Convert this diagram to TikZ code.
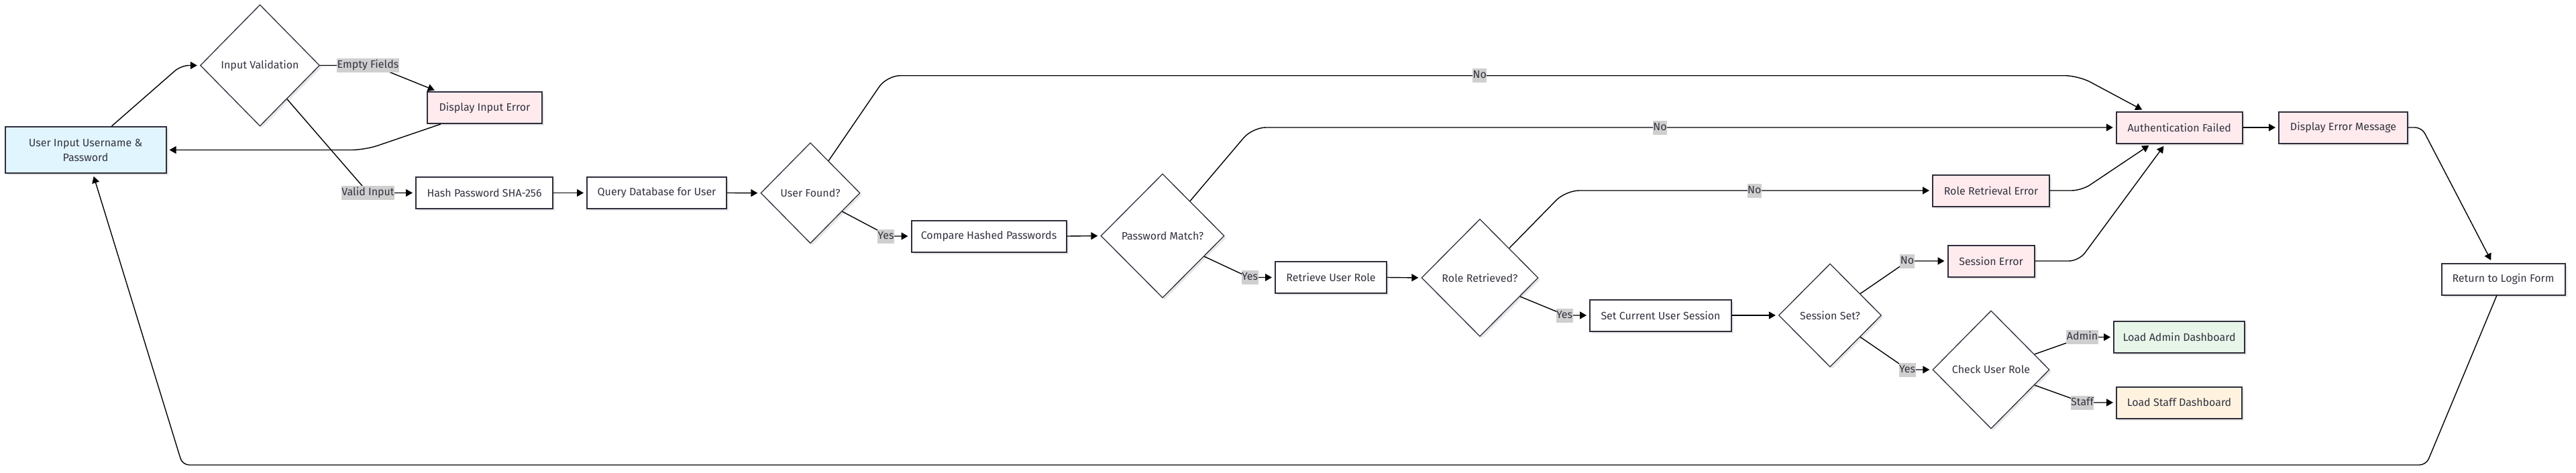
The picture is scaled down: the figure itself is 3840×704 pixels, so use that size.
\documentclass[tikz,border=0pt]{standalone}
\usepackage{fontspec}
\setmainfont{Fira Sans}
\usetikzlibrary{shapes.geometric,arrows.meta,shadows,calc}
\definecolor{strk}{HTML}{2E2E3C}
\definecolor{txt}{HTML}{333340}
\definecolor{lblgray}{HTML}{CFCFCF}
\definecolor{uiblue}{HTML}{E1F5FE}
\definecolor{errpink}{HTML}{FFEBEE}
\definecolor{okgreen}{HTML}{E8F5E9}
\definecolor{staffor}{HTML}{FFF3E0}
\begin{document}
\begin{tikzpicture}[x=1pt,y=-1pt,
  font=\fontsize{16}{22}\selectfont,
  shad/.style={drop shadow={shadow xshift=3pt,shadow yshift=-3pt,fill=black!9,opacity=1}},
  box/.style={rectangle,draw=strk,line width=2pt,fill=white,text=txt,minimum height=47pt,inner sep=0pt,align=center,shad},
  dia/.style={diamond,draw=strk,line width=1.3pt,fill=white,text=txt,inner sep=0pt,shad},
  edge/.style={draw=black,line width=1.4pt,-{Triangle[length=10pt,width=11pt]},shorten >=4pt},
  lbl/.style={fill=lblgray,text=txt,inner xsep=0.5pt,inner ysep=3pt,text height=11.5pt,text depth=3.5pt}
]
\fill[white] (0,0) rectangle (3840,704);
\useasboundingbox (0,0) rectangle (3840,704);

% nodes
\node[box,fill=uiblue,minimum width=240pt,minimum height=69pt] (ui) at (127.5,223.5) {User Input Username \&\\Password};
\node[dia,minimum width=178pt,minimum height=181pt] (iv) at (387.5,97.5) {Input Validation};
\node[box,fill=errpink,minimum width=171pt] (die) at (722.5,160.5) {Display Input Error};
\node[box,minimum width=204pt] (hash) at (722,287.5) {Hash Password SHA-256};
\node[box,minimum width=208pt] (query) at (979,287.5) {Query Database for User};
\node[dia,minimum width=148pt,minimum height=150pt] (uf) at (1208,287.7) {User Found?};
\node[box,minimum width=231pt] (cmp) at (1474,352) {Compare Hashed Passwords};
\node[dia,minimum width=184pt,minimum height=185pt] (pm) at (1733,351.5) {Password Match?};
\node[box,minimum width=166pt] (rur) at (1984,413.5) {Retrieve User Role};
\node[dia,minimum width=174pt,minimum height=175pt] (rr) at (2206,414) {Role Retrieved?};
\node[box,minimum width=211pt] (scus) at (2475.5,470) {Set Current User Session};
\node[dia,minimum width=153pt,minimum height=154pt] (ss) at (2728,470) {Session Set?};
\node[box,fill=errpink,minimum width=129pt] (se) at (2968,389) {Session Error};
\node[dia,minimum width=174pt,minimum height=176pt] (cur) at (2968,551) {Check User Role};
\node[box,fill=okgreen,minimum width=195pt] (lad) at (3248.5,502.5) {Load Admin Dashboard};
\node[box,fill=staffor,minimum width=187pt] (lsd) at (3248.5,600) {Load Staff Dashboard};
\node[box,fill=errpink,minimum width=174pt] (rre) at (2968,284) {Role Retrieval Error};
\node[box,fill=errpink,minimum width=188pt] (af) at (3248.75,190) {Authentication Failed};
\node[box,fill=errpink,minimum width=192pt] (dem) at (3493,190) {Display Error Message};
\node[box,minimum width=184pt] (rlf) at (3731.5,416) {Return to Login Form};

% edges
\draw[edge,rounded corners=12pt] ([xshift=39pt]ui.north) -- (270,97.5) -- (iv.west);
\draw[edge,rounded corners=10pt] (iv.east) -- (556,97.5) -- ([xshift=-71pt]die.north);
\draw[edge,rounded corners=8pt] ($(iv.east)!0.55!(iv.south)$) -- (549,287.5) -- (hash.west);
\draw[edge,rounded corners=20pt] ([xshift=-65.5pt]die.south) -- (544,223.5) -- (ui.east);
\draw[edge] (hash.east) -- (query.west);
\draw[edge] (query.east) -- (uf.west);
\draw[edge,rounded corners=6pt] ($(uf.east)!0.364!(uf.south)$) -- (1325,352) -- (cmp.west);
\draw[edge] (cmp.east) -- (pm.west);
\draw[edge,rounded corners=6pt] ($(pm.east)!0.33!(pm.south)$) -- (1862,413.5) -- (rur.west);
\draw[edge] (rur.east) -- (rr.west);
\draw[edge,rounded corners=6pt] ($(rr.east)!0.317!(rr.south)$) -- (2334,470) -- (scus.west);
\draw[edge] (scus.east) -- (ss.west);
\draw[edge,rounded corners=6pt] ($(ss.east)!0.416!(ss.north)$) -- (2844,389) -- (se.west);
\draw[edge,rounded corners=6pt] ($(ss.east)!0.416!(ss.south)$) -- (2844,551) -- (cur.west);
\draw[edge,rounded corners=6pt] ($(cur.east)!0.26!(cur.north)$) -- (3105,502.5) -- (lad.west);
\draw[edge,rounded corners=6pt] ($(cur.east)!0.26!(cur.south)$) -- (3105,600) -- (lsd.west);
\draw[edge,rounded corners=20pt] ($(uf.east)!0.636!(uf.north)$) -- (1322,112.7) -- (3098,112.7) -- ([xshift=-52pt]af.north);
\draw[edge,rounded corners=20pt] ($(pm.east)!0.557!(pm.north)$) -- (1867,190) -- (af.west);
\draw[edge,rounded corners=20pt] (rr.north east) -- (2334,284) -- (rre.west);
\draw[edge,rounded corners=15pt] (rre.east) -- (3103,284) -- ([xshift=-42pt]af.south);
\draw[edge,rounded corners=15pt] (se.east) -- (3099,389) -- ([xshift=-21pt]af.south);
\draw[edge] (af.east) -- (dem.west);
\draw[edge,rounded corners=10pt] (dem.east) -- (3610,190) -- ([xshift=-16.5pt]rlf.north);
\draw[edge,rounded corners=10pt] ([xshift=-9.7pt]rlf.south) -- (3616.6,693) -- (272,693) -- ([xshift=11pt]ui.south);

% edge labels
\node[lbl] (lEF) at (548.5,97.5) {Empty Fields};
\node[lbl] (lVI) at (548.5,287.5) {Valid Input};
\node[lbl] (lY1) at (1320.5,352) {Yes};
\node[lbl] (lY2) at (1863,413.5) {Yes};
\node[lbl] (lY3) at (2332,470) {Yes};
\node[lbl] (lN1) at (2205.7,112.7) {No};
\node[lbl] (lN2) at (2474.6,190) {No};
\node[lbl] (lN3) at (2615.2,284) {No};
\node[lbl] (lN4) at (2843,389) {No};
\node[lbl] (lY4) at (2843,551) {Yes};
\node[lbl] (lAd) at (3104,502.5) {Admin};
\node[lbl] (lSt) at (3104,600) {Staff};
\end{tikzpicture}
\end{document}
